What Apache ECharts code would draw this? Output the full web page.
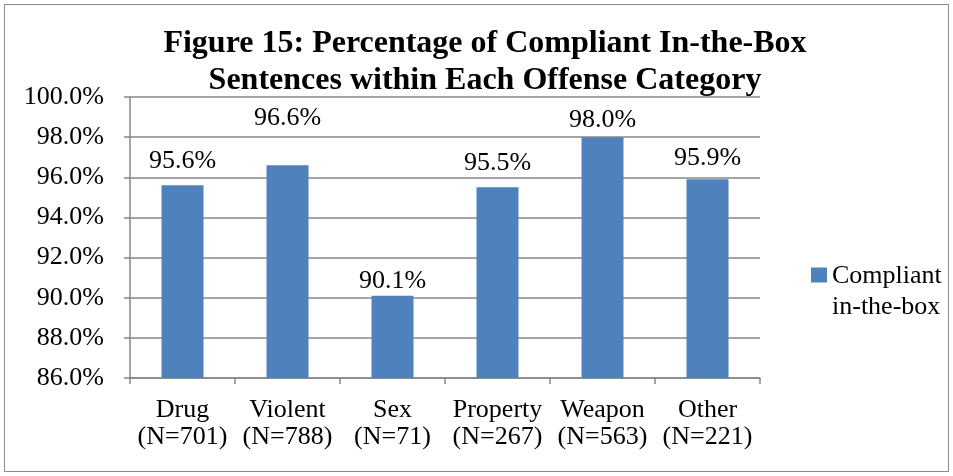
<!DOCTYPE html>
<html lang="en">
<head>
    <meta charset="UTF-8">
    <title>Figure 15</title>
    <script src="https://cdn.jsdelivr.net/npm/echarts@6/dist/echarts.min.js"></script>
    <style>
        html, body { margin: 0; padding: 0; background: #fff; }
        #frame {
            position: absolute;
            left: 4px; top: 4px;
            width: 943px; height: 466px;
            border: 1px solid #8c8c8c;
        }
        #charts { position: absolute; left: 0; top: 0; width: 953px; height: 476px; }
    </style>
</head>
<body>
<div id="frame"></div>
<div id="charts"></div>
<script>
    // data
    var categories = ['Drug', 'Violent', 'Sex', 'Property', 'Weapon', 'Other'];
    var counts = ['N=701', 'N=788', 'N=71', 'N=267', 'N=563', 'N=221'];
    var compliant = [95.6, 96.6, 90.1, 95.5, 98.0, 95.9];
    var titleText = 'Figure 15: Percentage of Compliant In-the-Box\nSentences within Each Offense Category';

    // label nudges (Excel placed a few labels off the default spot)
    var labelNudge = [0, -23, 9, 0, 7, 3];

    var font = "'Liberation Serif', 'Times New Roman', serif";
    var myChart = echarts.init(document.getElementById('charts'));

    var option = {
        animation: false,
        textStyle: { fontFamily: font },
        graphic: [{
            type: 'text',
            x: 485,
            y: 25,
            style: {
                text: titleText,
                fontFamily: font,
                fontSize: 32,
                fontWeight: 'bold',
                fill: '#000',
                lineHeight: 37,
                align: 'center',
                verticalAlign: 'top'
            }
        }],
        legend: {
            orient: 'vertical',
            left: 806,
            top: 256,
            itemWidth: 16,
            itemHeight: 49,
            // square sits beside the first text line
            icon: 'path://M0,0H16V15H0Z M0,49',
            textStyle: { fontFamily: font, fontSize: 26, color: '#000', lineHeight: 31 },
            data: ['Compliant\nin-the-box']
        },
        grid: { left: 130, right: 193, top: 97, bottom: 98 },
        xAxis: {
            type: 'category',
            data: categories.map(function (c, i) { return c + '\n(' + counts[i] + ')'; }),
            axisLine: { lineStyle: { color: '#868686', width: 1.5 } },
            axisTick: { show: true, length: 6, lineStyle: { color: '#868686', width: 1.5 } },
            axisLabel: { color: '#000', fontSize: 26, fontFamily: font, margin: 19, lineHeight: 27, interval: 0 }
        },
        yAxis: {
            type: 'value',
            min: 86,
            max: 100,
            interval: 2,
            axisLine: { show: true, lineStyle: { color: '#868686', width: 1.5 } },
            axisTick: { show: true, length: 6, lineStyle: { color: '#868686', width: 1.5 } },
            axisLabel: {
                color: '#000', fontSize: 26, fontFamily: font, margin: 26,
                formatter: function (v) { return v.toFixed(1) + '%'; }
            },
            splitLine: { lineStyle: { color: '#868686', width: 1.5 } }
        },
        series: [{
            name: 'Compliant\nin-the-box',
            type: 'bar',
            data: compliant.map(function (v, i) {
                return { value: v, label: { offset: [0, labelNudge[i]] } };
            }),
            barWidth: '40%',
            itemStyle: { color: '#4f81bd' },
            label: {
                show: true,
                position: 'top',
                distance: 11,
                color: '#000',
                fontSize: 26,
                fontFamily: font,
                formatter: function (p) { return p.value.toFixed(1) + '%'; }
            }
        }]
    };

    myChart.setOption(option);
</script>
</body>
</html>
